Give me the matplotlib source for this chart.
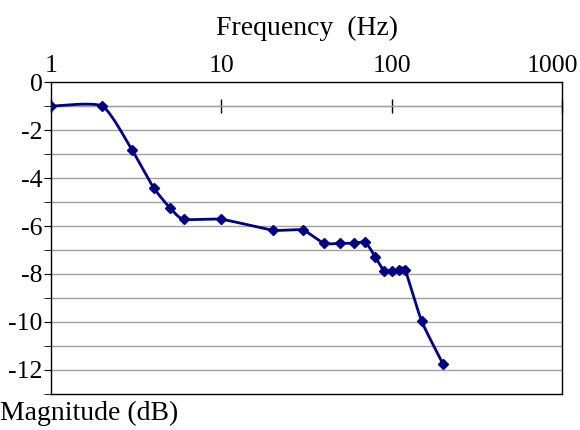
import matplotlib
matplotlib.use("Agg")
from matplotlib import pyplot as plt
from matplotlib.ticker import FixedLocator, NullLocator
from matplotlib.transforms import ScaledTranslation
import numpy as np

# data
freq = [1, 2, 3, 4, 5, 6, 10, 20, 30, 40, 50, 60, 70, 80, 90, 100, 110, 120, 150, 200]
mag = [-1.0, -1.0, -2.85, -4.4, -5.25, -5.72, -5.72, -6.17, -6.17, -6.72, -6.72, -6.72,
       -6.68, -7.28, -7.86, -7.86, -7.84, -7.84, -9.97, -11.75]
xticks = [1, 10, 100, 1000]
xticklabels = ['1', '10', '100', '1000']
yticks = [0, -2, -4, -6, -8, -10, -12]

plt.rcParams['font.family'] = ['Liberation Serif', 'DejaVu Serif']
plt.rcParams['axes.unicode_minus'] = False
navy = '#000080'
fs = 18.5
lfs = 20


def smooth(xs, ys, n=30, k=0.1):
    # Excel-like smoothed line: Catmull-Rom style cubic Bezier in log-x space
    lx = np.log10(np.asarray(xs, float))
    y = np.asarray(ys, float)
    P = np.column_stack([lx, y])
    out = []
    for i in range(len(P) - 1):
        p0 = P[i - 1] if i > 0 else P[i]
        p1, p2 = P[i], P[i + 1]
        p3 = P[i + 2] if i + 2 < len(P) else P[i + 1]
        c1 = p1 + (p2 - p0) * k
        c2 = p2 - (p3 - p1) * k
        t = np.linspace(0, 1, n)[:, None]
        seg = ((1 - t) ** 3) * p1 + 3 * ((1 - t) ** 2) * t * c1 + 3 * (1 - t) * t ** 2 * c2 + t ** 3 * p2
        out.append(seg if i == 0 else seg[1:])
    pts = np.vstack(out)
    return 10 ** pts[:, 0], pts[:, 1]


fig = plt.figure(figsize=(5.8, 4.3), dpi=100)
ax = fig.add_axes([0.088, 0.084, 0.881, 0.725])

ax.set_xscale('log')
ax.set_xlim(1, 1000)
ax.set_ylim(-13, 0)

# gridlines at every unit
for v in range(-12, 0):
    ax.axhline(v, color='#a0a0a0', lw=1, zorder=1)

sx, sy = smooth(freq, mag)
ax.plot(sx, sy, color=navy, lw=2, zorder=3)
ax.plot(freq, mag, 'D', color=navy, ms=5.5, zorder=4)

# tick labels along the top, no marks there
ax.xaxis.tick_top()
ax.xaxis.set_major_locator(FixedLocator(xticks))
ax.xaxis.set_minor_locator(NullLocator())
ax.set_xticklabels(xticklabels)
ax.tick_params(axis='x', length=0, pad=4, labelsize=fs)
ax.set_xlabel('Frequency  (Hz)', fontsize=lfs, labelpad=14)
ax.xaxis.set_label_position('top')
last = ax.get_xticklabels()[-1]
last.set_transform(last.get_transform() + ScaledTranslation(-10 / 100, 0, fig.dpi_scale_trans))

# the category axis itself crosses at -1
sec = ax.secondary_xaxis(12 / 13)
sec.xaxis.set_major_locator(FixedLocator(xticks))
sec.xaxis.set_minor_locator(NullLocator())
sec.tick_params(axis='x', direction='inout', length=10, width=1, color='black',
                labelbottom=False, labeltop=False)

ax.set_yticks(yticks)
ax.set_yticks(range(-13, 1), minor=True)
ax.tick_params(axis='y', which='both', direction='out', length=5, labelsize=fs, pad=1)

for s in ax.spines.values():
    s.set_color('black')
    s.set_linewidth(1)

fig.text(0.0, 0.01, 'Magnitude (dB)', fontsize=lfs, ha='left', va='bottom')

fig.savefig('out.png', dpi=100)
